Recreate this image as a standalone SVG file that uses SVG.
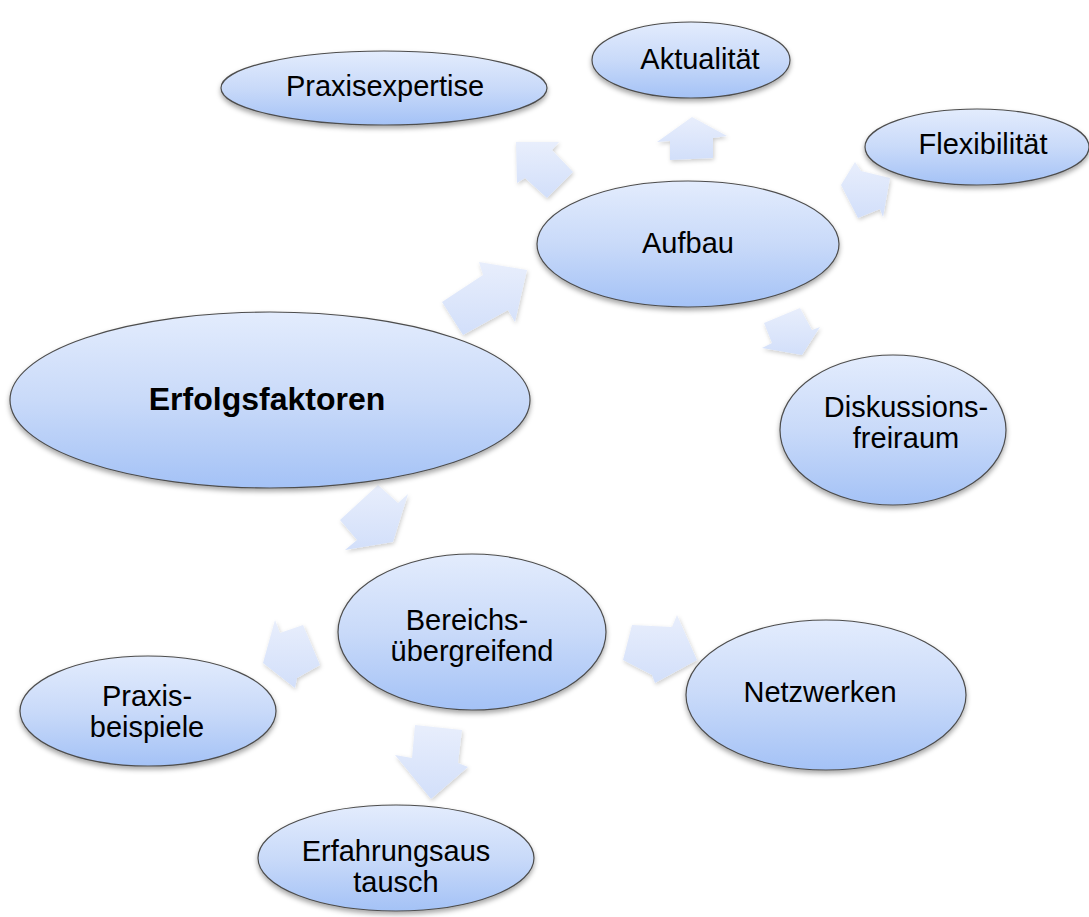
<svg xmlns="http://www.w3.org/2000/svg" width="1089" height="917" viewBox="0 0 1089 917">
<defs>
<linearGradient id="eg" x1="0" y1="0" x2="0" y2="1">
<stop offset="0" stop-color="#e3ecfd"/>
<stop offset="0.5" stop-color="#c9daf9"/>
<stop offset="1" stop-color="#a4c2f6"/>
</linearGradient>
<linearGradient id="ag" x1="0" y1="0" x2="0" y2="1">
<stop offset="0" stop-color="#e8eefc"/>
<stop offset="1" stop-color="#d2dffa"/>
</linearGradient>
<filter id="sh" x="-10%" y="-10%" width="120%" height="130%">
<feDropShadow dx="0" dy="3" stdDeviation="2.5" flood-color="#000" flood-opacity="0.35"/>
</filter>
<filter id="ash" x="-20%" y="-20%" width="140%" height="140%">
<feDropShadow dx="1" dy="2" stdDeviation="2" flood-color="#000" flood-opacity="0.2"/>
</filter>
</defs>
<style>
.n{fill:url(#eg);stroke:#4d4d4d;stroke-width:1.2;filter:url(#sh)}
.a{fill:url(#ag);filter:url(#ash)}
text{font-family:"Liberation Sans",Arial,sans-serif;font-size:29px;fill:#000;text-anchor:middle}
.b{font-weight:bold;font-size:32px}
</style>
<rect width="1089" height="917" fill="#fff"/>
<g id="connectors">
<polygon class="a" points="442,302 483,275 479,262 527,270 515,322 508,310 463,335"/>
<polygon class="a" points="516,142 559,142 552,150 573,172 547,198 525,178 517,183"/>
<polygon class="a" points="692,117 727,136 713,138 713,158 670,160 670,141 657,142"/>
<polygon class="a" points="855,162 861,171 890,178 883,217 880,209 858,218 841,185"/>
<polygon class="a" points="764,323 800,308 812,330 820,327 802,355 762,348 772,343"/>
<polygon class="a" points="378,485 398,503 408,494 393,542 345,550 357,540 340,520"/>
<polygon class="a" points="275,620 280,633 303,625 320,665 297,678 295,688 263,663"/>
<polygon class="a" points="632,625 672,627 677,615 697,660 655,683 652,675 623,660"/>
<polygon class="a" points="415,725 462,730 458,763 468,767 431,799 395,755 412,758"/>
</g>
<g id="n-erfolgsfaktoren"><ellipse class="n" cx="270" cy="400" rx="260" ry="88"/><text class="b" x="267" y="410">Erfolgsfaktoren</text></g>
<g id="n-aufbau"><ellipse class="n" cx="688" cy="244" rx="151" ry="63"/><text x="688" y="253">Aufbau</text></g>
<g id="n-praxisexpertise"><ellipse class="n" cx="384" cy="88" rx="163" ry="37"/><text x="385" y="96">Praxisexpertise</text></g>
<g id="n-aktualitaet"><ellipse class="n" cx="691" cy="60" rx="99" ry="38"/><text x="700" y="69">Aktualität</text></g>
<g id="n-flexibilitaet"><ellipse class="n" cx="977" cy="147" rx="112" ry="38"/><text x="983" y="154">Flexibilität</text></g>
<g id="n-diskussionsfreiraum"><ellipse class="n" cx="893" cy="430" rx="113" ry="75"/><text x="906" y="417">Diskussions-</text><text x="906" y="448">freiraum</text></g>
<g id="n-bereichsuebergreifend"><ellipse class="n" cx="472" cy="632" rx="134" ry="78"/><text x="467" y="630">Bereichs-</text><text x="472" y="661">übergreifend</text></g>
<g id="n-netzwerken"><ellipse class="n" cx="826" cy="695" rx="140" ry="75"/><text x="820" y="702">Netzwerken</text></g>
<g id="n-praxisbeispiele"><ellipse class="n" cx="148" cy="711" rx="128" ry="55"/><text x="147" y="706">Praxis-</text><text x="147" y="737">beispiele</text></g>
<g id="n-erfahrungsaustausch"><ellipse class="n" cx="396" cy="858" rx="138" ry="53"/><text x="396" y="861">Erfahrungsaus</text><text x="396" y="892">tausch</text></g>
</svg>
